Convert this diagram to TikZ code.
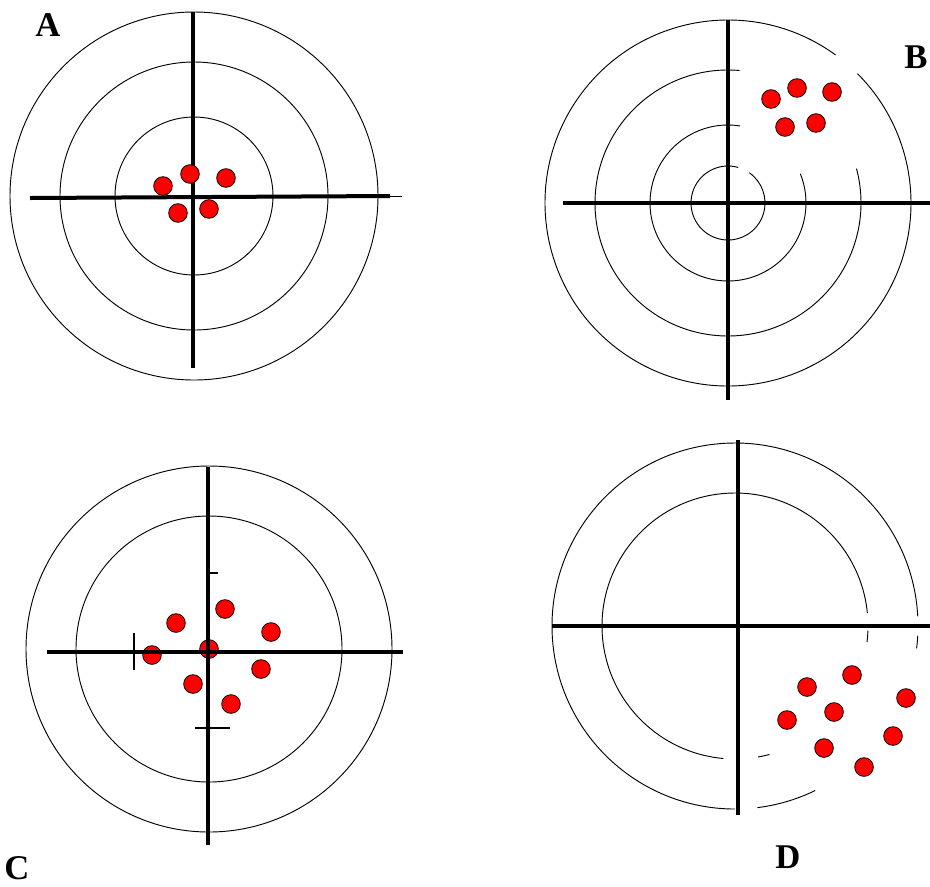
\documentclass[tikz,border=0pt]{standalone}
\usepackage{fontspec}
\setmainfont{Liberation Serif}
\begin{document}
\begin{tikzpicture}[x=0.75pt,y=-0.75pt,
  ring/.style={draw=black,line width=0.7pt},
  axis/.style={draw=black,line width=3pt},
  thinaxis/.style={draw=black,line width=0.7pt},
  tick/.style={draw=black,line width=0.8pt},
  shot/.style={circle,fill=red,draw=black,line width=0.6pt,minimum size=14pt,inner sep=0pt},
  lab/.style={font=\fontsize{26}{26}\selectfont\bfseries,inner sep=0pt}]
\useasboundingbox (0,0) rectangle (930,886);
\clip (0,0) rectangle (930,886);

% ---------- Target A ----------
\begin{scope}[shift={(194,196)},yscale=-1]
  \draw[ring] (0,0) circle[radius=184];
  \draw[ring] (0,0) circle[radius=134];
  \draw[ring] (0,0) circle[radius=79];
  \draw[axis] (-1,184) -- (-1,-172);
  \draw[axis] (-164,-2) -- (196,0);
  \draw[thinaxis] (196,0) -- (208,0);
\end{scope}
\node[shot] (a1) at (163,186) {};
\node[shot] (a2) at (190,174) {};
\node[shot] (a3) at (226,178) {};
\node[shot] (a4) at (178,213) {};
\node[shot] (a5) at (209,209) {};
\node[lab] (labA) at (48,25) {A};

% ---------- Target B ----------
\begin{scope}[shift={(728,203)},yscale=-1]
  \draw[ring] (54:183) arc[start angle=54,end angle=405,radius=183];
  \draw[ring] (85:133) arc[start angle=85,end angle=375,radius=133];
  \draw[ring] (81:78) arc[start angle=81,end angle=382,radius=78];
  \draw[ring] (74:37) arc[start angle=74,end angle=415,radius=37];
  \draw[axis] (0,183) -- (0,-197);
  \draw[axis] (-165,0) -- (207,0);
\end{scope}
\node[shot] (b1) at (771,99) {};
\node[shot] (b2) at (797,88) {};
\node[shot] (b3) at (832,92) {};
\node[shot] (b4) at (785,127) {};
\node[shot] (b5) at (816,123) {};
\node[lab] (labB) at (916,57) {B};

% ---------- Target C ----------
\node[shot] (c1) at (152,655) {};
\node[shot] (c2) at (176,623) {};
\node[shot] (c3) at (225,609) {};
\node[shot] (c4) at (271,632) {};
\node[shot] (c5) at (209,649) {};
\node[shot] (c6) at (261,669) {};
\node[shot] (c7) at (193,684) {};
\node[shot] (c8) at (231,704) {};
\begin{scope}[shift={(209,649)},yscale=-1]
  \draw[ring] (0,0) circle[radius=183];
  \draw[ring] (0,0) circle[radius=133];
  \draw[axis] (-1,182) -- (-1,-196);
  \draw[axis] (-162,-3) -- (194,-3);
  \draw[tick] (-3,76) -- (9,76);
  \draw[tick] (-14,-79) -- (21,-79);
  \draw[tick] (-75,16) -- (-75,-21);
\end{scope}
\node[lab] (labC) at (17,868) {C};

% ---------- Target D ----------
\begin{scope}[shift={(735,626)},yscale=-1]
  \draw[ring] (3:183) arc[start angle=3,end angle=270,radius=183];
  \draw[ring] (-3:183) arc[start angle=-3,end angle=-7,radius=183];
  \draw[ring] (-83:183) arc[start angle=-83,end angle=-64,radius=183];
  \draw[ring] (5.6:133) arc[start angle=5.6,end angle=265,radius=133];
  \draw[ring] (-2:133) arc[start angle=-2,end angle=-7,radius=133];
  \draw[ring] (-80:133) arc[start angle=-80,end angle=-75,radius=133];
  \draw[axis] (3,186) -- (3,-189);
  \draw[axis] (-183,0) -- (200,0);
\end{scope}
\node[shot] (d1) at (807,687) {};
\node[shot] (d2) at (852,675) {};
\node[shot] (d3) at (906,698) {};
\node[shot] (d4) at (834,712) {};
\node[shot] (d5) at (787,720) {};
\node[shot] (d6) at (893,736) {};
\node[shot] (d7) at (824,748) {};
\node[shot] (d8) at (864,767) {};
\node[lab] (labD) at (788,857) {D};
\end{tikzpicture}
\end{document}
